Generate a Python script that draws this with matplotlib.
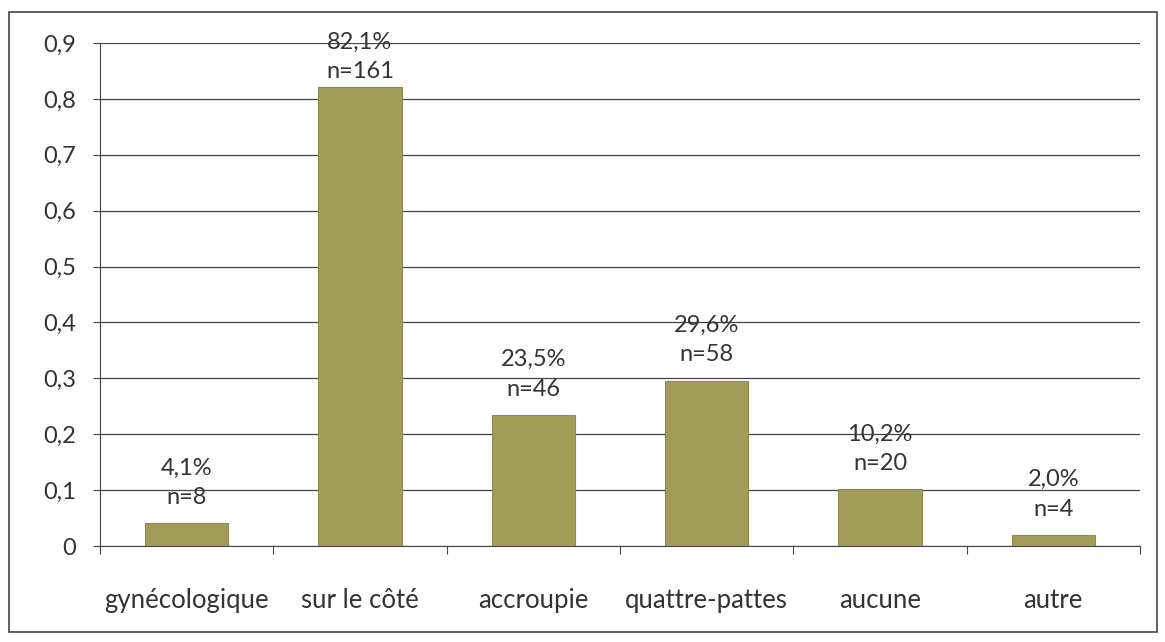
import matplotlib.pyplot as plt
from matplotlib.patches import Rectangle
import numpy as np

plt.rcParams['font.family'] = ['Lato', 'DejaVu Sans']

# data
categories = ["gynécologique", "sur le côté", "accroupie", "quattre-pattes", "aucune", "autre"]
values = [0.041, 0.821, 0.235, 0.296, 0.102, 0.020]
pct_labels = ["4,1%", "82,1%", "23,5%", "29,6%", "10,2%", "2,0%"]
counts = [8, 161, 46, 58, 20, 4]
yticks = [0, 0.1, 0.2, 0.3, 0.4, 0.5, 0.6, 0.7, 0.8, 0.9]
ytick_labels = ["0", "0,1", "0,2", "0,3", "0,4", "0,5", "0,6", "0,7", "0,8", "0,9"]

fig = plt.figure(figsize=(11.65, 6.42), dpi=100, facecolor="w")
ax = fig.add_axes([0.0858, 0.1495, 0.8927, 0.7835])

x = np.arange(len(categories))
ax.bar(x, values, width=0.48, color="#a19d58", edgecolor="#8f8b4c", linewidth=0.8, zorder=3)

# labels sit above the bars, pushed down when they would leave the chart (like Excel)
for xi, v, p, n in zip(x, values, pct_labels, counts):
    ax.text(xi, min(v + 0.027, 0.83), p + "\nn=" + str(n), ha="center", va="bottom",
            fontsize=17, color="#333333", linespacing=1.5, zorder=4)

ax.set_xlim(-0.5, len(categories) - 0.5)
ax.set_ylim(0, 0.9)
ax.set_yticks(yticks)
ax.set_yticklabels(ytick_labels, fontsize=17, color="#333333")
ax.yaxis.grid(True, color="#444444", linewidth=0.9, zorder=0)
ax.set_axisbelow(True)

# category labels between boundary ticks
ax.set_xticks(np.arange(-0.5, len(categories), 1.0))
ax.set_xticklabels([])
ax.set_xticks(x, minor=True)
ax.set_xticklabels(categories, minor=True, fontsize=18.5, color="#333333")
ax.tick_params(axis="x", which="minor", length=0, pad=30)
ax.tick_params(axis="x", which="major", length=6, direction="out", color="#444444")
ax.tick_params(axis="y", length=5, color="#444444", pad=12)

for s in ["top", "right"]:
    ax.spines[s].set_visible(False)
ax.spines["left"].set_color("#444444")
ax.spines["bottom"].set_color("#444444")

# outer chart border
fig.patches.append(Rectangle((0.008, 0.015), 0.985, 0.967, transform=fig.transFigure,
                             fill=False, edgecolor="#444444", linewidth=1.2))

fig.savefig("out.png", dpi=100)
